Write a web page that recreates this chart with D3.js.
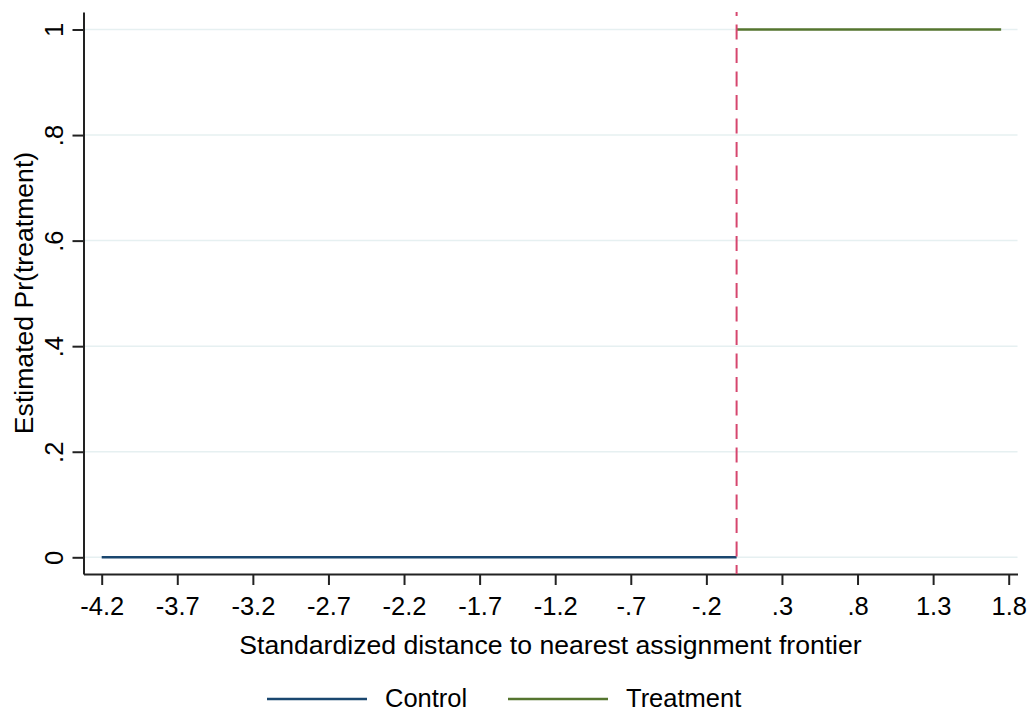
<!DOCTYPE html>
<html>
<head>
<meta charset="utf-8">
<script src="https://cdn.jsdelivr.net/npm/d3@7"></script>
<style>
  html, body { margin: 0; padding: 0; background: #fff; }
  svg { display: block; font-family: "Liberation Sans", Arial, sans-serif; }
</style>
</head>
<body>
<div id="chart"></div>
<script>
// =======================
// Data
// =======================
const xTicks = [-4.2, -3.7, -3.2, -2.7, -2.2, -1.7, -1.2, -0.7, -0.2, 0.3, 0.8, 1.3, 1.8];
const yTicks = [0, 0.2, 0.4, 0.6, 0.8, 1];
const controlX = [-4.2, 0];
const controlY = [0, 0];
const treatmentX = [0, 1.75];
const treatmentY = [1, 1];
const cutoff = 0;
const seriesNames = ["Control", "Treatment"];
const seriesColors = ["#1a476f", "#55752f"];

// =======================
// SVG
// =======================
const width = 1033;
const height = 711;

const svg = d3.select("#chart")
    .append("svg")
    .attr("width", width)
    .attr("height", height);

const plot = { left: 83.5, right: 1017.5, top: 12, bottom: 574 };

const x = d3.scaleLinear()
    .domain([-4.2 - 18.2 / 151.2, -4.2 + 916 / 151.2])
    .range([plot.left, plot.right]);

const y = d3.scaleLinear()
    .domain([-16.7 / 527.8, 1 + 17.5 / 527.8])
    .range([plot.bottom, plot.top]);

// Stata style labels: "-.2", ".8", "1"
const fmt = v => {
    const s = (Math.round(v * 10) / 10).toString();
    return s.replace(/^(-?)0\./, "$1.");
};

// =======================
// Gridlines
// =======================
svg.append("g")
    .selectAll("line")
    .data(yTicks)
    .enter()
    .append("line")
    .attr("x1", plot.left)
    .attr("x2", plot.right)
    .attr("y1", d => y(d))
    .attr("y2", d => y(d))
    .attr("stroke", "#e6f0f1")
    .attr("stroke-width", 1.5);

// =======================
// Axes
// =======================
const xAxis = svg.append("g")
    .attr("transform", `translate(0,${plot.bottom})`)
    .call(d3.axisBottom(x).tickValues(xTicks).tickFormat(fmt).tickSize(11).tickSizeOuter(0));

xAxis.select(".domain").attr("stroke", "#222").attr("stroke-width", 2);
xAxis.selectAll(".tick line").attr("stroke", "#222").attr("stroke-width", 2);
xAxis.selectAll(".tick text")
    .attr("y", 0)
    .attr("dy", 41)
    .attr("fill", "#000")
    .style("font-size", "25.5px");

const yAxis = svg.append("g")
    .attr("transform", `translate(${plot.left},0)`)
    .call(d3.axisLeft(y).tickValues(yTicks).tickFormat(fmt).tickSize(11).tickSizeOuter(0));

yAxis.select(".domain").attr("stroke", "#222").attr("stroke-width", 2);
yAxis.selectAll(".tick line").attr("stroke", "#222").attr("stroke-width", 2);
yAxis.selectAll(".tick text")
    .attr("x", null)
    .attr("dy", null)
    .attr("text-anchor", "middle")
    .attr("transform", "translate(-21,0) rotate(-90)")
    .attr("fill", "#000")
    .style("font-size", "25.5px");

// Axis titles
svg.append("text")
    .attr("x", (plot.left + plot.right) / 2)
    .attr("y", 654)
    .attr("text-anchor", "middle")
    .style("font-size", "26.6px")
    .text("Standardized distance to nearest assignment frontier");

svg.append("text")
    .attr("transform", `translate(33,${(plot.top + plot.bottom) / 2}) rotate(-90)`)
    .attr("text-anchor", "middle")
    .style("font-size", "26.6px")
    .text("Estimated Pr(treatment)");

// =======================
// Series
// =======================
const line = d3.line().x(d => x(d[0])).y(d => y(d[1]));

svg.append("path")
    .datum(d3.zip(controlX, controlY))
    .attr("d", line)
    .attr("fill", "none")
    .attr("stroke", seriesColors[0])
    .attr("stroke-width", 2.5);

svg.append("path")
    .datum(d3.zip(treatmentX, treatmentY))
    .attr("d", line)
    .attr("fill", "none")
    .attr("stroke", seriesColors[1])
    .attr("stroke-width", 2.5);

// Cutoff
svg.append("line")
    .attr("x1", x(cutoff))
    .attr("x2", x(cutoff))
    .attr("y1", plot.top)
    .attr("y2", plot.bottom)
    .attr("stroke", "#d6466e")
    .attr("stroke-width", 2)
    .attr("stroke-dasharray", "15,8.5")
    .attr("stroke-dashoffset", 11);

// =======================
// Legend
// =======================
const legendX = [267, 508];
const legend = svg.append("g");
seriesNames.forEach((name, i) => {
    legend.append("line")
        .attr("x1", legendX[i])
        .attr("x2", legendX[i] + 100)
        .attr("y1", 699)
        .attr("y2", 699)
        .attr("stroke", seriesColors[i])
        .attr("stroke-width", 2.5);
    legend.append("text")
        .attr("x", legendX[i] + 118)
        .attr("y", 707)
        .style("font-size", "25.5px")
        .text(name);
});
</script>
</body>
</html>
